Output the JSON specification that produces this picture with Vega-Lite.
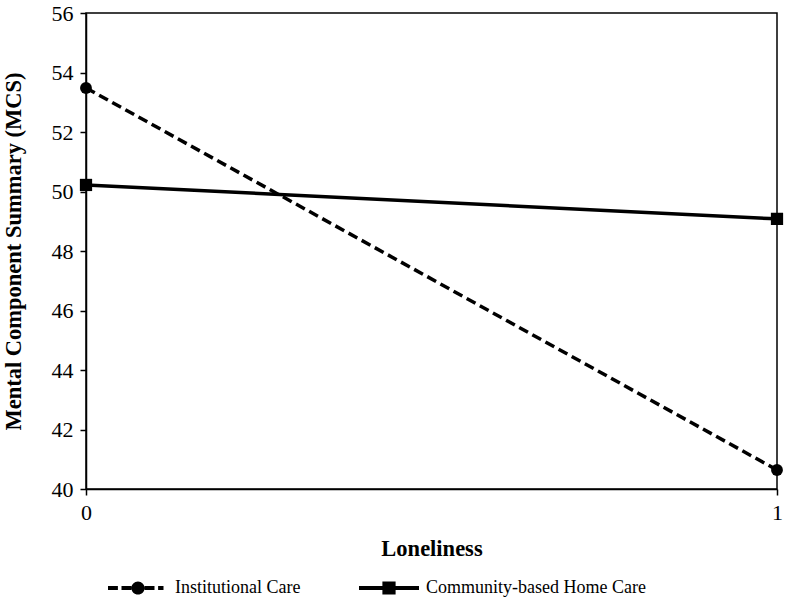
{
  "$schema": "https://vega.github.io/schema/vega-lite/v6.json",
  "autosize": "none",
  "width": 691,
  "height": 476,
  "padding": {"left": 86, "top": 13, "right": 9, "bottom": 115},
  "background": "white",
  "config": {
    "font": "Liberation Serif",
    "view": {"stroke": "black", "strokeWidth": 1.5},
    "axis": {
      "grid": false,
      "domainColor": "black",
      "domainWidth": 1.5,
      "tickColor": "black",
      "tickWidth": 1.5,
      "tickSize": 6,
      "labelFont": "Liberation Serif",
      "labelFontSize": 22,
      "labelColor": "black",
      "titleFont": "Liberation Serif",
      "titleFontSize": 22.5,
      "titleFontWeight": "bold",
      "titleColor": "black"
    }
  },
  "data": {
    "values": [
      {"loneliness": 0, "group": "Institutional Care", "mcs": 53.48},
      {"loneliness": 1, "group": "Institutional Care", "mcs": 40.64},
      {"loneliness": 0, "group": "Community-based Home Care", "mcs": 50.22},
      {"loneliness": 1, "group": "Community-based Home Care", "mcs": 49.08}
    ]
  },
  "encoding": {
    "x": {
      "field": "loneliness",
      "type": "quantitative",
      "scale": {"domain": [0, 1], "nice": false},
      "axis": {"values": [0, 1], "format": "d", "title": "Loneliness", "labelPadding": 7, "titlePadding": 14, "labelFlush": false}
    },
    "y": {
      "field": "mcs",
      "type": "quantitative",
      "scale": {"domain": [40, 56], "nice": false, "zero": false},
      "axis": {"values": [40, 42, 44, 46, 48, 50, 52, 54, 56], "title": "Mental Component Summary (MCS)", "labelPadding": 7, "titlePadding": 26}
    }
  },
  "layer": [
    {
      "transform": [{"filter": "datum.group === 'Institutional Care'"}],
      "mark": {"type": "line", "color": "black", "strokeWidth": 3.5, "strokeDash": [10, 5]}
    },
    {
      "transform": [{"filter": "datum.group === 'Community-based Home Care'"}],
      "mark": {"type": "line", "color": "black", "strokeWidth": 3.5}
    },
    {
      "transform": [{"filter": "datum.group === 'Institutional Care'"}],
      "mark": {"type": "point", "filled": true, "color": "black", "opacity": 1, "size": 140, "shape": "circle"}
    },
    {
      "transform": [{"filter": "datum.group === 'Community-based Home Care'"}],
      "mark": {"type": "point", "filled": true, "color": "black", "opacity": 1, "size": 150, "shape": "square"}
    },
    {
      "mark": {"type": "point", "filled": true, "color": "black", "opacity": 0, "size": 10},
      "encoding": {
        "shape": {
          "field": "group",
          "type": "nominal",
          "scale": {
            "domain": ["Institutional Care", "Community-based Home Care"],
            "range": [
              "M-1,-0.07 H-0.67 V0.07 H-1 Z M-0.55,-0.07 H-0.22 V0.07 H-0.55 Z M0.22,-0.07 H0.55 V0.07 H0.22 Z M0.67,-0.07 H0.85 V0.07 H0.67 Z M0.22,0 A0.22,0.22 0 1,1 -0.22,0 A0.22,0.22 0 1,1 0.22,0 Z",
              "M-1,-0.07 H1 V0.07 H-1 Z M-0.22,-0.22 H0.22 V0.22 H-0.22 Z"
            ]
          },
          "legend": {
            "title": null,
            "orient": "none",
            "direction": "horizontal",
            "legendX": 22,
            "legendY": 545,
            "padding": 0,
            "symbolSize": 3600,
            "symbolOpacity": 1,
            "symbolFillColor": "black",
            "symbolStrokeWidth": 0,
            "labelFont": "Liberation Serif",
            "labelFontSize": 18,
            "labelColor": "black",
            "labelLimit": 400,
            "labelOffset": 7,
            "columnPadding": 58
          }
        }
      }
    }
  ]
}
